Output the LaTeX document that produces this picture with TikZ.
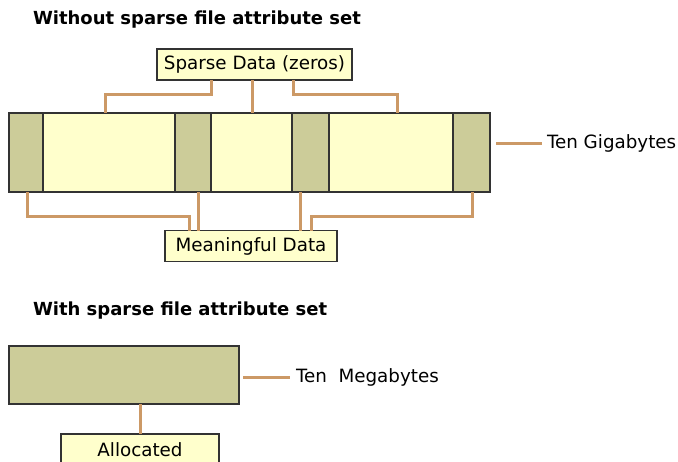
\documentclass[tikz,border=0pt]{standalone}
\usepackage{fontspec}
\setmainfont{DejaVu Sans}
\definecolor{lightfill}{HTML}{FFFFCC}
\definecolor{darkfill}{HTML}{CCCC99}
\definecolor{conncol}{HTML}{CC9966}
\definecolor{edgecol}{HTML}{333333}
\begin{document}
\begin{tikzpicture}[x=1pt,y=-1pt,
  seg/.style={draw=edgecol, line width=1.2pt, inner sep=0pt, outer sep=0pt, anchor=north west, minimum height=79pt},
  dseg/.style={seg, fill=darkfill},
  lseg/.style={seg, fill=lightfill},
  lbl/.style={draw=edgecol, line width=1.2pt, fill=lightfill, inner sep=0pt, outer sep=0pt, font=\fontsize{18.3}{21}\selectfont, minimum height=31pt},
  plain/.style={inner sep=0pt, outer sep=0pt, anchor=west, font=\fontsize{18.3}{21}\selectfont},
  ttl/.style={inner sep=0pt, outer sep=0pt, anchor=west, font=\fontsize{18}{21}\selectfont\bfseries},
  wire/.style={draw=conncol, line width=3pt}]
\clip (0,0) rectangle (678,461);
\useasboundingbox (0,0) rectangle (678,461);

% titles
\node[ttl] (t1) at (33,20) {Without sparse file attribute set};
\node[ttl] (t2) at (33,311) {With sparse file attribute set};

% bar segments
\node[dseg, minimum width=34pt]  (d1) at (9,113) {};
\node[lseg, minimum width=132pt] (l1) at (43,113) {};
\node[dseg, minimum width=36pt]  (d2) at (175,113) {};
\node[lseg, minimum width=81pt]  (l2) at (211,113) {};
\node[dseg, minimum width=37pt]  (d3) at (292,113) {};
\node[lseg, minimum width=124pt] (l3) at (329,113) {};
\node[dseg, minimum width=37pt]  (d4) at (453,113) {};

% labels
\node[lbl, minimum width=195pt] (sd) at (254.5,64.5) {Sparse Data (zeros)};
\node[lbl, minimum width=172pt] (md) at (251,246) {Meaningful Data};
\node[plain] (tg) at (547,143) {Ten Gigabytes};

% sparse data connectors
\draw[wire] (sd.south -| 211,0) |- (105,94) -- (l1.north -| 105,0);
\draw[wire] (sd.south -| 252,0) -- (l2.north -| 252,0);
\draw[wire] (sd.south -| 293,0) |- (397,94) -- (l3.north -| 397,0);

% meaningful data connectors
\draw[wire] (d1.south -| 27,0) |- (189,216) -- (md.north -| 189,0);
\draw[wire] (d2.south -| 198,0) -- (md.north -| 198,0);
\draw[wire] (d3.south -| 300,0) -- (md.north -| 300,0);
\draw[wire] (d4.south -| 472,0) |- (311,216) -- (md.north -| 311,0);

% ten gigabytes
\draw[wire] ([xshift=6pt]d4.east |- tg.west) -- ([xshift=-5pt]tg.west);

% second diagram
\node[dseg, minimum width=230pt, minimum height=58pt] (big) at (9,346) {};
\node[plain] (tm) at (296,377) {Ten\ \ Megabytes};
\draw[wire] ([xshift=4pt]big.east |- tm.west) -- ([xshift=-6pt]tm.west);
\node[lbl, anchor=north, minimum width=158pt, minimum height=32pt, text height=13pt] (al) at (140,434) {Allocated};
\draw[wire] (big.south -| al.north) -- (al.north);
\end{tikzpicture}
\end{document}
